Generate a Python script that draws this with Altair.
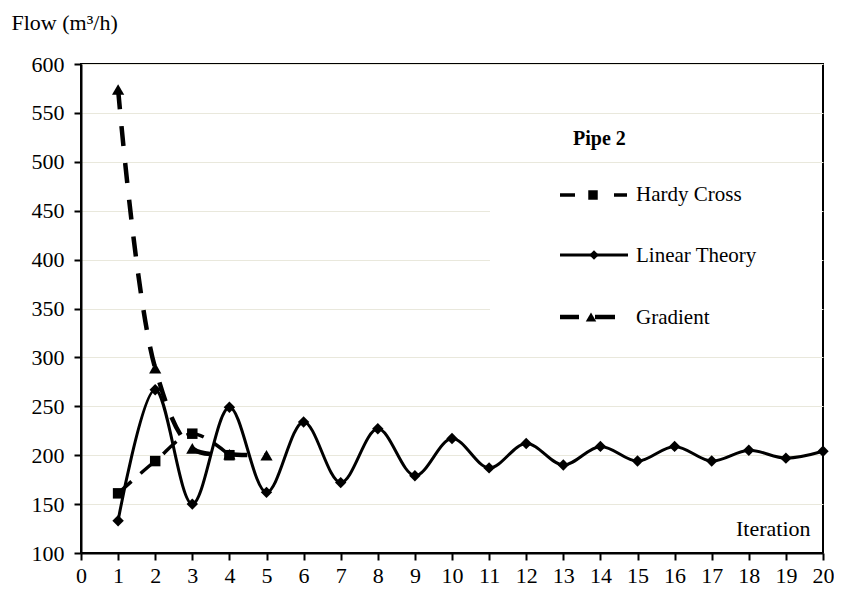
import altair as alt
import pandas as pd

# ---------------- data ----------------
linear_iter = list(range(1, 21))
linear_theory = [133, 267, 150, 249, 162, 234, 172, 227, 179, 217,
                 187, 212, 190, 209, 194, 209, 194, 205, 197, 204]
hardy_iter = [1, 2, 3, 4]
hardy_cross = [161, 194, 222, 200]
gradient_iter = [1, 2, 3, 4, 5]
gradient = [574, 289, 207, 201, 200]

x_ticks = list(range(0, 21))
y_ticks = list(range(100, 601, 50))
legend_title = "Pipe 2"
legend_labels = ["Hardy Cross", "Linear Theory", "Gradient"]
y_title = "Flow (m³/h)"
x_title = "Iteration"

FONT = "Liberation Serif"
W, H = 742, 489

df_lin = pd.DataFrame({"it": linear_iter, "flow": linear_theory})
df_hc = pd.DataFrame({"it": hardy_iter, "flow": hardy_cross})
df_gr = pd.DataFrame({"it": gradient_iter, "flow": gradient})
one = pd.DataFrame({"k": [0]})

xs = alt.Scale(domain=[0, 20], nice=False, zero=False)
ys = alt.Scale(domain=[100, 600], nice=False, zero=False)

X = alt.X("it:Q", scale=xs,
          axis=alt.Axis(values=x_ticks, title=x_title, grid=False,
                        titleX=729, titleY=-18, titleAlign="right",
                        titleBaseline="alphabetic", titleAnchor=None,
                        labelPadding=5, labelFlush=False))
Y = alt.Y("flow:Q", scale=ys,
          axis=alt.Axis(values=y_ticks, title=y_title, grid=True,
                        titleAngle=0, titleX=-70, titleY=-35,
                        titleAlign="left", titleBaseline="alphabetic",
                        titleAnchor=None, labelPadding=10))

# white box behind legend hides grid lines
box = alt.Chart(one).mark_rect(color="white").encode(
    x=alt.value(409), x2=alt.value(741), y=alt.value(106), y2=alt.value(280))

hc_line = alt.Chart(df_hc).mark_line(
    interpolate="catmull-rom", color="black", strokeWidth=3.5,
    strokeDash=[18, 12]).encode(x=X, y=Y)
hc_pts = alt.Chart(df_hc).mark_point(
    shape="square", filled=True, color="black", opacity=1, size=110).encode(x=X, y=Y)

lin_line = alt.Chart(df_lin).mark_line(
    interpolate="catmull-rom", color="black", strokeWidth=3).encode(x=X, y=Y)
lin_pts = alt.Chart(df_lin).mark_point(
    shape="diamond", filled=True, color="black", opacity=1, size=130).encode(x=X, y=Y)

gr_line = alt.Chart(df_gr).mark_line(
    interpolate="catmull-rom", color="black", strokeWidth=4.5,
    strokeDash=[20, 17]).encode(x=X, y=Y)
gr_pts = alt.Chart(df_gr).mark_point(
    shape="triangle-up", filled=True, color="black", opacity=1, size=150).encode(x=X, y=Y)

# ---------------- legend ----------------
def rule(x1, x2, y, w, **kw):
    return alt.Chart(one).mark_rule(color="black", strokeWidth=w, **kw).encode(
        x=alt.value(x1), x2=alt.value(x2), y=alt.value(y))

def sym(x, y, shape, size):
    return alt.Chart(one).mark_point(shape=shape, filled=True, color="black",
                                     opacity=1, size=size).encode(
        x=alt.value(x), y=alt.value(y))

def label(x, y, txt, bold=False):
    return alt.Chart(one).mark_text(
        font=FONT, fontSize=21 if not bold else 20,
        fontWeight="bold" if bold else "normal",
        align="left", baseline="alphabetic", color="black").encode(
        x=alt.value(x), y=alt.value(y), text=alt.value(txt))

leg = [
    label(492, 81, legend_title, bold=True),
    rule(479, 494, 131, 3.5), sym(512, 131, "square", 90), rule(533, 546, 131, 3.5),
    label(555, 137, legend_labels[0]),
    rule(479, 547, 191, 3), sym(513, 191, "diamond", 90),
    label(555, 198, legend_labels[1]),
    rule(479, 498, 253, 4.5), sym(510, 253, "triangle-up", 110), rule(514, 534, 253, 4.5),
    label(555, 260, legend_labels[2]),
]

chart = alt.layer(box, hc_line, lin_line, gr_line, hc_pts, lin_pts, gr_pts, *leg).properties(
    width=W, height=H,
    autosize=alt.AutoSizeParams(type="none"),
    padding={"left": 73, "top": 56, "right": 11, "bottom": 34},
    background="white",
).configure_view(
    stroke="black", strokeWidth=2
).configure_axis(
    domainColor="black", domainWidth=2, tickColor="black", tickWidth=2, tickSize=7,
    labelFont=FONT, labelFontSize=22, labelColor="black",
    titleFont=FONT, titleFontSize=22, titleFontWeight="normal", titleColor="black",
    gridColor="#e9e8dc", gridWidth=1.2,
)

chart.save("out.html", embed_options={"renderer": "svg", "actions": False})
